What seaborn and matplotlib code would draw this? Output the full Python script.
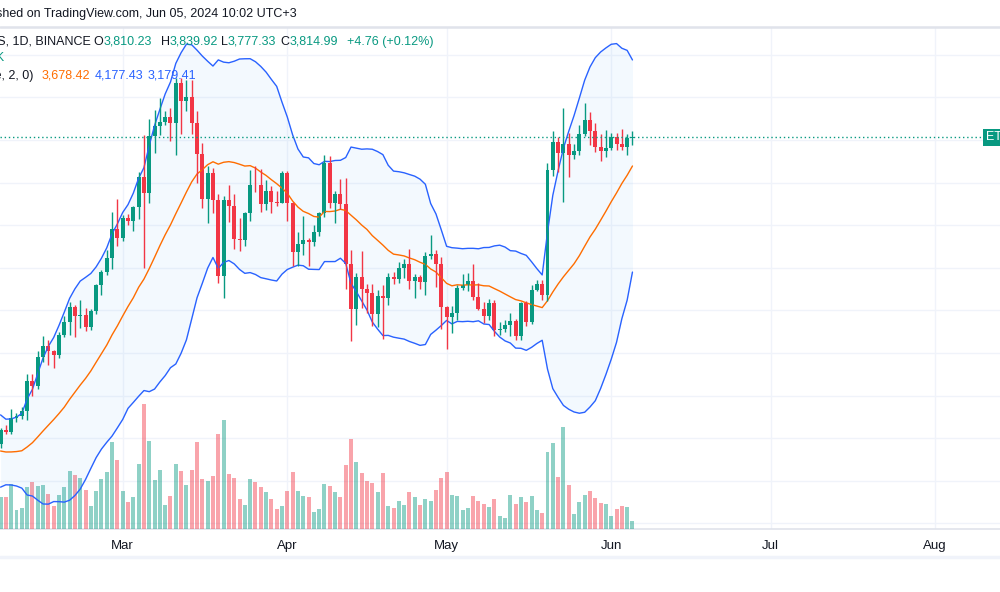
import numpy as np
import pandas as pd
import matplotlib
matplotlib.use("Agg")
import matplotlib.pyplot as plt
import matplotlib.dates as mdates
from matplotlib.lines import Line2D
from matplotlib.patches import Rectangle
import seaborn as sns

# ETH / TetherUS daily candles, 7 Feb - 5 Jun 2024
dates = pd.date_range("2024-02-07", "2024-06-05", freq="D")

opens = [
    # Feb 7-29
    2373, 2437, 2428, 2495, 2505, 2530, 2668, 2645, 2781, 2831, 2808, 2792,
    2885, 2947, 3018, 2975, 2978, 2924, 2995, 3118, 3180, 3245, 3384,
    # Mar
    3340, 3433, 3421, 3487, 3627, 3552, 3817, 3868, 3883, 3909, 3878, 4067,
    3983, 4004, 3881, 3734, 3524, 3645, 3520, 3160, 3516, 3492, 3336, 3330,
    3455, 3590, 3587, 3500, 3561, 3509, 3505,
    # Apr
    3646, 3505, 3276, 3313, 3331, 3319, 3370, 3455, 3694, 3505, 3545, 3500,
    3217, 3007, 3156, 3102, 3084, 2985, 3066, 3056, 3155, 3147, 3200, 3219,
    3139, 3155, 3131, 3257, 3263, 3216,
    # May
    3014, 2970, 2988, 3103, 3117, 3137, 3064, 3007, 2974, 3036, 2910, 2912,
    2930, 2950, 2881, 3036, 2946, 3094, 3123, 3071, 3660, 3790, 3738, 3780,
    3728, 3748, 3826, 3892, 3842, 3767, 3749,
    # Jun 1-5
    3763, 3815, 3780, 3767, 3810.23,
]
highs = [
    2450, 2460, 2537, 2518, 2545, 2700, 2700, 2808, 2878, 2862, 2815, 2900,
    2975, 3040, 3025, 3050, 3010, 3005, 3125, 3190, 3285, 3460, 3525,
    3450, 3452, 3490, 3650, 3823, 3900, 3940, 3995, 3935, 3950, 4090, 4092,
    4080, 4080, 3935, 3785, 3680, 3670, 3545, 3535, 3588, 3545, 3435, 3460,
    3660, 3678, 3665, 3610, 3585, 3560, 3655,
    3655, 3510, 3370, 3445, 3340, 3400, 3460, 3728, 3725, 3560, 3615, 3620,
    3285, 3175, 3280, 3125, 3125, 3095, 3120, 3175, 3180, 3225, 3240, 3290,
    3170, 3165, 3275, 3355, 3285, 3250,
    3020, 3020, 3120, 3170, 3175, 3220, 3130, 3040, 3055, 3050, 2945, 2955,
    2990, 2960, 3040, 3045, 3120, 3145, 3145, 3690, 3840, 3815, 3950, 3835,
    3780, 3870, 3975, 3930, 3880, 3830, 3845,
    3835, 3835, 3850, 3830, 3839.92,
]
lows = [
    2355, 2418, 2418, 2475, 2490, 2485, 2598, 2630, 2760, 2746, 2730, 2778,
    2877, 2885, 2877, 2916, 2905, 2910, 2985, 3070, 3165, 3195, 3300,
    3325, 3403, 3375, 3428, 3200, 3505, 3740, 3825, 3870, 3795, 3730, 3830,
    3935, 3830, 3600, 3480, 3410, 3455, 3130, 3060, 3415, 3290, 3280, 3300,
    3420, 3557, 3460, 3470, 3455, 3490, 3505,
    3420, 3210, 3210, 3260, 3210, 3300, 3350, 3440, 3480, 3410, 3475, 3100,
    2855, 2930, 3010, 2990, 2925, 2920, 2865, 3025, 3125, 3130, 3150, 3100,
    3060, 3100, 3070, 3240, 3110, 2915,
    2817, 2895, 2955, 3095, 3090, 3050, 3000, 2940, 2955, 2880, 2885, 2900,
    2880, 2860, 2860, 2925, 2935, 3090, 3050, 3045, 3630, 3650, 3510, 3625,
    3710, 3730, 3820, 3775, 3742, 3700, 3720,
    3752, 3755, 3755, 3730, 3777.33,
]
closes = [
    2437, 2428, 2495, 2505, 2530, 2668, 2645, 2781, 2831, 2808, 2792, 2885,
    2947, 3018, 2975, 2978, 2924, 2995, 3118, 3180, 3245, 3384, 3340,
    3433, 3421, 3487, 3627, 3552, 3817, 3868, 3883, 3909, 3878, 4067, 3983,
    4004, 3881, 3734, 3524, 3645, 3520, 3160, 3516, 3492, 3336, 3330, 3455,
    3590, 3587, 3500, 3561, 3509, 3505, 3646,
    3505, 3276, 3313, 3331, 3319, 3370, 3455, 3694, 3505, 3545, 3500, 3217,
    3007, 3156, 3102, 3084, 2985, 3066, 3056, 3155, 3147, 3200, 3219, 3139,
    3155, 3131, 3257, 3263, 3216, 3014,
    2970, 2988, 3103, 3117, 3137, 3064, 3007, 2974, 3036, 2910, 2912, 2930,
    2950, 2881, 3036, 2946, 3094, 3123, 3071, 3660, 3790, 3738, 3780, 3728,
    3748, 3826, 3892, 3842, 3767, 3749, 3763,
    3815, 3780, 3767, 3810.23, 3814.99,
]
# volume in thousands of ETH
volumes = [
    320, 317, 453, 187, 210, 417, 467, 427, 443, 353, 233, 343,
    417, 583, 543, 510, 393, 233, 383, 503, 573, 867, 693,
    383, 267, 320, 653, 1253, 883, 493, 593, 243, 333, 653, 583,
    443, 593, 867, 503, 477, 527, 953, 1093, 553, 513, 303, 243,
    503, 467, 417, 373, 303, 203, 233,
    383, 573, 383, 333, 323, 173, 203, 453, 427, 367, 317, 637,
    903, 673, 557, 483, 457, 367, 557, 233, 213, 277, 243, 367,
    323, 243, 303, 283, 393, 513,
    573, 343, 333, 193, 213, 333, 283, 253, 223, 303, 133, 113,
    343, 253, 323, 273, 333, 193, 163, 773, 863, 523, 1023, 443,
    153, 273, 343, 383, 313, 263, 253,
    133, 203, 233, 223, 83,
]
# closes of the 19 days before the first visible candle (20-day bands need them)
warmup_closes = [2520, 2490, 2470, 2455, 2315, 2240, 2240, 2270, 2270, 2260,
                 2320, 2345, 2285, 2305, 2310, 2300, 2290, 2300, 2375]

# Bollinger bands 20, 2
c_all = pd.Series(warmup_closes + closes, dtype=float)
basis = c_all.rolling(20).mean().iloc[len(warmup_closes):].to_numpy()
dev = c_all.rolling(20).std(ddof=0).iloc[len(warmup_closes):].to_numpy()
upper = basis + 2 * dev
lower = basis - 2 * dev

df = pd.DataFrame({"date": dates, "open": opens, "high": highs, "low": lows,
                   "close": closes, "vol": volumes,
                   "basis": basis, "upper": upper, "lower": lower})
df["up"] = df["close"] >= df["open"]

UP, DOWN = "#089981", "#F23645"
TXT = "#131722"
FS = 9

sns.set_theme(style="white")
plt.rcParams["font.family"] = ["Liberation Sans", "DejaVu Sans"]

W, H = 1000, 592
fig = plt.figure(figsize=(W / 100, H / 100), dpi=100)
fig.patch.set_facecolor("white")


def fx(px):
    return px / W


def fy(py):
    return 1 - py / H


top_px, bot_px = 27, 529
rect = [0, fy(bot_px), 1, (bot_px - top_px) / H]

# pixel calibration of the screenshot
px_per_day = 5.31
mar1_px = 122.7
px_per_usd = 0.213
mar1 = mdates.date2num(pd.Timestamp("2024-03-01"))
xlim = (mar1 - mar1_px / px_per_day, mar1 + (W - mar1_px) / px_per_day)
ylim = (3800 - (bot_px - 140) / px_per_usd, 3800 + (140 - top_px) / px_per_usd)

# grid / axis layer
axg = fig.add_axes(rect)
axg.set_xlim(xlim)
axg.set_ylim(ylim)
axg.set_yticks(np.arange(2000, 4400, 200))
axg.xaxis.set_major_locator(mdates.MonthLocator())
axg.xaxis.set_major_formatter(mdates.DateFormatter("%b"))
axg.grid(True, color="#f0f3fa", lw=1)
axg.tick_params(axis="x", length=0, pad=8, labelsize=9.5, labelcolor=TXT)
axg.tick_params(axis="y", left=False, labelleft=False)
for s in ["top", "left", "right"]:
    axg.spines[s].set_visible(False)
axg.spines["bottom"].set_color("#e0e3eb")
axg.spines["bottom"].set_linewidth(1.2)

# volume layer
axv = fig.add_axes(rect, sharex=axg)
axv.patch.set_visible(False)
axv.set_ylim(0, (bot_px - top_px) * 10)
axv.bar(df["date"], df["vol"], width=0.75,
        color=np.where(df["up"], UP, DOWN), alpha=0.45, lw=0)
axv.axis("off")

# price layer
ax = fig.add_axes(rect, sharex=axg)
ax.patch.set_visible(False)
ax.set_ylim(ylim)
ax.fill_between(df["date"], df["upper"], df["lower"], color="#2196F3",
                alpha=0.05, lw=0)
sns.lineplot(data=df, x="date", y="upper", ax=ax, color="#2962FF", lw=1)
sns.lineplot(data=df, x="date", y="lower", ax=ax, color="#2962FF", lw=1)
sns.lineplot(data=df, x="date", y="basis", ax=ax, color="#FF6D00", lw=1)

colors = np.where(df["up"], UP, DOWN)
ax.vlines(df["date"], df["low"], df["high"], colors=colors, lw=1)
body_lo = np.minimum(df["open"], df["close"])
body_h = np.maximum((df["close"] - df["open"]).abs(), 4)
ax.bar(df["date"], body_h, bottom=body_lo, width=0.75, color=colors, lw=0)

ax.axhline(closes[-1], color=UP, lw=1, ls=(0, (1, 2)))
ax.set_xlim(xlim)
ax.axis("off")

# header
fig.text(fx(297), fy(14), "Published on TradingView.com, Jun 05, 2024 10:02 UTC+3",
         ha="right", va="center", fontsize=FS, color=TXT)
fig.add_artist(Line2D([0, 1], [fy(27), fy(27)], color="#e0e3eb", lw=1.8))
fig.add_artist(Line2D([0, 1], [fy(557), fy(557)], color="#f0f3fa", lw=2.5))

# legend rows
y2 = fy(42)
fig.text(fx(91), y2, "Ethereum / TetherUS, 1D, BINANCE", ha="right", va="center",
         fontsize=FS, color=TXT)
for lab, val, xv in [("O", "3,810.23", 104), ("H", "3,839.92", 170),
                     ("L", "3,777.33", 228), ("C", "3,814.99", 290)]:
    fig.text(fx(xv - 0.5), y2, lab, ha="right", va="center", fontsize=FS, color=TXT)
    fig.text(fx(xv), y2, val, ha="left", va="center", fontsize=FS, color=UP)
fig.text(fx(347), y2, "+4.76 (+0.12%)", ha="left", va="center", fontsize=FS, color=UP)

fig.text(fx(4), fy(58), "Vol · ETH 5.53K", ha="right", va="center",
         fontsize=FS, color=UP)

y3 = fy(76)
fig.text(fx(33), y3, "BB (20, SMA, close, 2, 0)", ha="right", va="center",
         fontsize=FS, color=TXT)
fig.text(fx(42), y3, "3,678.42", ha="left", va="center", fontsize=FS, color="#FF6D00")
fig.text(fx(95), y3, "4,177.43", ha="left", va="center", fontsize=FS, color="#2962FF")
fig.text(fx(148), y3, "3,179.41", ha="left", va="center", fontsize=FS, color="#2962FF")

# last price label on the (cut off) price scale
fig.add_artist(Rectangle((fx(983), fy(146)), fx(20), 17 / H, color=UP, lw=0))
fig.text(fx(986), fy(137.5), "ETHUSDT", ha="left", va="center", fontsize=FS,
         color="white")

fig.savefig("out.png", dpi=100)
